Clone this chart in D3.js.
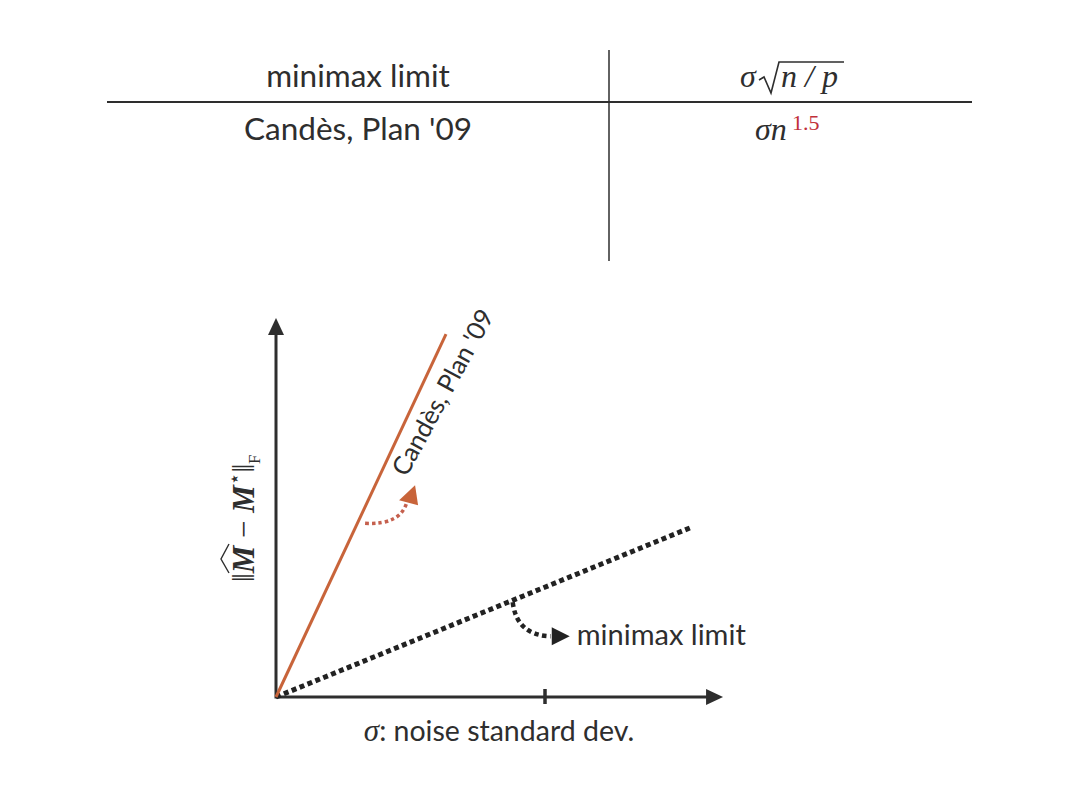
<!DOCTYPE html>
<html>
<head>
<meta charset="utf-8">
<script src="https://cdn.jsdelivr.net/npm/d3@7"></script>
<style>
  html, body { margin:0; padding:0; background:#fff; }
  svg text { fill:#2e2e2e; }
  .sans { font-family: Lato, "Open Sans", sans-serif; }
  .math { font-family: "Liberation Serif", "DejaVu Serif", serif; font-style:italic; }
</style>
</head>
<body>
<svg id="chart" width="1080" height="810"></svg>
<script>
// table rows (method, rate)
var methods = ["minimax limit", "Candès, Plan '09"];
// lines in the sketch: [sigma, error] end points
var candesPts = [[0, 0], [0.632, 1.349]];
var minimaxPts = [[0, 0], [1.547, 0.632]];
var xTicks = [1];
var xMax = 1.662, yMax = 1.409;
// where the annotation arrows leave the lines (sigma)
var candesNote = 0.32;
var minimaxNote = 0.88;

var svg = d3.select("#chart");
var ink = "#2e2e2e", orange = "#c8643a";

// ---------- table ----------
var tbl = svg.append("g");
tbl.append("line").attr("x1", 107).attr("x2", 972).attr("y1", 102).attr("y2", 102)
	.attr("stroke", ink).attr("stroke-width", 2);
tbl.append("line").attr("x1", 609).attr("x2", 609).attr("y1", 50).attr("y2", 261)
	.attr("stroke", ink).attr("stroke-width", 1.5);
tbl.selectAll("text.method").data(methods).enter().append("text")
	.attr("class", "method sans")
	.attr("x", 358)
	.attr("y", function(d, i) { return 87 + i * 53; })
	.attr("text-anchor", "middle")
	.attr("font-size", 31.5)
	.text(function(d) { return d; });

// sigma sqrt(n/p)
tbl.append("text").attr("class", "math").attr("x", 740).attr("y", 87).attr("font-size", 32).text("σ");
tbl.append("path").attr("d", "M759,80 L764,77 L771,93 L779,62 L844,62")
	.attr("fill", "none").attr("stroke", ink).attr("stroke-width", 1.6);
tbl.append("text").attr("class", "math").attr("x", 781).attr("y", 87).attr("font-size", 32)
	.text("n / p");
// sigma n^1.5
tbl.append("text").attr("class", "math").attr("x", 755).attr("y", 140).attr("font-size", 32).text("σn");
tbl.append("text").attr("x", 792).attr("y", 130).attr("font-size", 22)
	.attr("font-family", "Liberation Serif, serif").style("fill", "#c0303a").text("1.5");

// ---------- sketch ----------
var x = d3.scaleLinear().domain([0, 1]).range([276, 545]);
var y = d3.scaleLinear().domain([0, 1]).range([697, 428]);
var g = svg.append("g");

// axes
g.append("line").attr("x1", x(0)).attr("x2", x(xMax) - 14).attr("y1", y(0)).attr("y2", y(0))
	.attr("stroke", ink).attr("stroke-width", 3);
g.append("line").attr("x1", x(0)).attr("x2", x(0)).attr("y1", y(0) + 1.5).attr("y2", y(yMax) + 14)
	.attr("stroke", ink).attr("stroke-width", 3);
g.append("path").attr("fill", ink)
	.attr("d", "M" + x(xMax) + "," + y(0) + " l-17,-8 l0,16 z");
g.append("path").attr("fill", ink)
	.attr("d", "M" + x(0) + "," + y(yMax) + " l-8,17 l16,0 z");
g.selectAll("line.tick").data(xTicks).enter().append("line")
	.attr("class", "tick")
	.attr("x1", function(d) { return x(d); }).attr("x2", function(d) { return x(d); })
	.attr("y1", y(0) - 8).attr("y2", y(0) + 7)
	.attr("stroke", ink).attr("stroke-width", 3.5);

var line = d3.line().x(function(d) { return x(d[0]); }).y(function(d) { return y(d[1]); });
g.append("path").datum(minimaxPts).attr("d", line)
	.attr("fill", "none").attr("stroke", "#222").attr("stroke-width", 5)
	.attr("stroke-dasharray", "5,3.5");
g.append("path").datum(candesPts).attr("d", line)
	.attr("fill", "none").attr("stroke", orange).attr("stroke-width", 3);

// annotation arrows
function onLine(pts, s) { var k = pts[1][1] / pts[1][0]; return [x(s), y(s * k)]; }
var a = onLine(candesPts, candesNote);
var ax = a[0] + 3, ay = a[1] + 10;
g.append("path")
	.attr("d", "M" + ax + "," + ay + " Q" + (ax + 36) + "," + (ay + 2) + " " + (ax + 42) + "," + (ay - 22))
	.attr("fill", "none").attr("stroke", "#c5604e").attr("stroke-width", 3.5)
	.attr("stroke-dasharray", "3.5,3");
g.append("path").attr("fill", orange)
	.attr("d", "M" + (ax + 50) + "," + (ay - 38) + " L" + (ax + 34) + "," + (ay - 23) + " L" + (ax + 53) + "," + (ay - 18) + " z");

var b = onLine(minimaxPts, minimaxNote);
var bx = b[0], by = b[1] + 2;
g.append("path")
	.attr("d", "M" + bx + "," + by + " Q" + (bx + 4) + "," + (by + 33) + " " + (bx + 38) + "," + (by + 34))
	.attr("fill", "none").attr("stroke", "#222").attr("stroke-width", 4.5)
	.attr("stroke-dasharray", "4.5,3.5");
g.append("path").attr("fill", "#222")
	.attr("d", "M" + (bx + 57) + "," + (by + 34) + " l-18,-9 l0,18 z");

g.append("text").attr("class", "sans").attr("x", bx + 64).attr("y", by + 43)
	.attr("font-size", 29).text(methods[0]);

// rotated label along the Candes line
var lx = x(0.485), ly = y(0.815);
g.append("text").attr("class", "sans")
	.attr("transform", "translate(" + lx + "," + ly + ") rotate(-61.5)")
	.attr("font-size", 25.5).text(methods[1]);

// x label
var xl = g.append("text").attr("x", 499).attr("y", 741).attr("text-anchor", "middle").attr("font-size", 28.5);
xl.append("tspan").attr("class", "math").attr("font-size", 31).text("σ");
xl.append("tspan").attr("class", "sans").text(":  noise standard dev.");

// y label: ||M^ - M*||_F
var yl = g.append("g").attr("transform", "translate(254,582) rotate(-90)");
var yt = yl.append("text").attr("font-size", 31).attr("font-family", "Liberation Serif, serif");
yt.append("tspan").text("‖");
yt.append("tspan").attr("font-style", "italic").attr("font-weight", "bold").text("M");
yt.append("tspan").text(" − ");
yt.append("tspan").attr("font-style", "italic").attr("font-weight", "bold").text("M");
yt.append("tspan").attr("font-size", 20).attr("dy", -13).attr("font-family", "DejaVu Sans, sans-serif").text("⋆");
yt.append("tspan").attr("dy", 13).text("‖");
yt.append("tspan").attr("font-size", 17).attr("dy", 6).text("F");
yl.append("path").attr("d", "M9,-25 L23,-33 L38,-25")
	.attr("fill", "none").attr("stroke", ink).attr("stroke-width", 1.4);
</script>
</body>
</html>
